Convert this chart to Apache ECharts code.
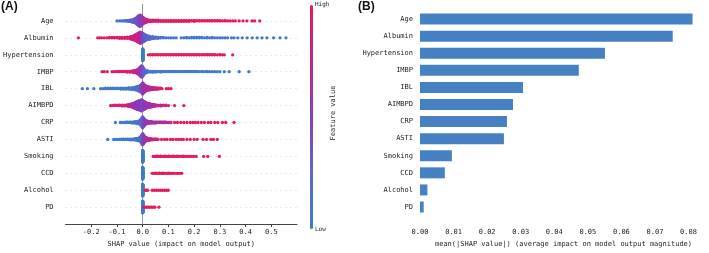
<!DOCTYPE html>
<html lang="en">
<head>
    <meta charset="UTF-8">
    <title>SHAP summary</title>
    <script src="https://cdn.jsdelivr.net/npm/echarts@6/dist/echarts.min.js"></script>
    <style>
        html, body { margin: 0; padding: 0; background: #fff; }
        #main { width: 709px; height: 253px; }
    </style>
</head>
<body>
<div id="main"></div>
<script>
    // features, top to bottom
    const features = ['Age', 'Albumin', 'Hypertension', 'IMBP', 'IBL', 'AIMBPD', 'CRP', 'ASTI', 'Smoking', 'CCD', 'Alcohol', 'PD'];
    // panel B: mean(|SHAP value|)
    const meanAbsShap = [0.0812, 0.0753, 0.0551, 0.0473, 0.0307, 0.0277, 0.0259, 0.0250, 0.0095, 0.0074, 0.0022, 0.0011];

    // panel A: [shap value, number of points at that value, feature value 0(low)..1(high)]
    const shapAge = [
        [-0.100,1,0.10],[-0.090,1,0.15],[-0.082,1,0.10],[-0.075,1,0.20],[-0.068,2,0.15],[-0.062,2,0.20],[-0.056,3,0.25],
        [-0.050,4,0.20],[-0.045,5,0.30],[-0.040,7,0.30],[-0.035,9,0.30],[-0.030,12,0.35],[-0.025,16,0.35],[-0.020,22,0.40],
        [-0.015,28,0.40],[-0.010,30,0.45],[-0.005,26,0.50],[0.000,18,0.55],[0.005,14,0.65],[0.010,10,0.75],[0.015,8,0.80],
        [0.020,6,0.85],[0.030,5,0.90],[0.040,4,0.90],[0.050,4,0.95],[0.060,4,0.95],[0.070,3,0.95],[0.080,3,1],[0.090,3,1],
        [0.100,3,1],[0.110,3,1],[0.120,3,1],[0.130,3,1],[0.140,3,1],[0.150,3,1],[0.160,3,1],[0.170,3,1],[0.180,3,1],
        [0.190,2,1],[0.200,3,1],[0.210,2,1],[0.220,2,1],[0.230,2,1],[0.240,2,1],[0.250,2,1],[0.260,2,1],[0.270,2,1],
        [0.280,2,1],[0.290,2,1],[0.300,2,1],[0.310,1,1],[0.320,2,1],[0.330,1,1],[0.340,1,1],[0.350,1,1],[0.360,1,1],
        [0.375,1,1],[0.390,1,1],[0.405,1,1],[0.425,1,1],[0.435,1,1],[0.455,1,1]
    ];
    const shapAlbumin = [
        [-0.250,1,0.95],[-0.175,1,0.95],[-0.168,1,0.90],[-0.160,1,0.95],[-0.150,1,0.95],[-0.140,1,0.95],[-0.130,2,0.95],
        [-0.120,2,0.95],[-0.110,2,0.95],[-0.100,2,0.95],[-0.090,3,0.95],[-0.080,3,0.95],[-0.070,3,0.90],[-0.060,4,0.90],
        [-0.050,5,0.90],[-0.045,7,0.90],[-0.040,9,0.90],[-0.035,11,0.90],[-0.030,14,0.85],[-0.025,18,0.85],[-0.020,22,0.85],
        [-0.015,26,0.80],[-0.010,30,0.75],[-0.005,28,0.65],[0.000,24,0.50],[0.005,20,0.35],[0.010,16,0.30],[0.015,12,0.25],
        [0.020,10,0.20],[0.025,8,0.20],[0.030,7,0.20],[0.040,6,0.15],[0.050,4,0.15],[0.060,3,0.10],[0.070,2,0.10],
        [0.080,2,0.10],[0.090,1,0.10],[0.100,1,0.10],[0.110,1,0.05],[0.120,1,0.05],[0.130,1,0.05],
        [0.150,1,0.05],[0.160,1,0.05],[0.170,2,0.05],[0.180,1,0.05],[0.190,2,0.05],[0.200,2,0.05],[0.210,2,0.05],
        [0.220,2,0.05],[0.230,2,0.05],[0.240,1,0.05],[0.250,2,0.05],[0.260,1,0.05],[0.270,2,0.05],[0.280,1,0.05],
        [0.290,1,0.05],[0.300,1,0.05],[0.310,1,0.05],[0.320,1,0.05],[0.330,1,0.05],[0.345,1,0.05],[0.355,1,0.05],
        [0.370,1,0.05],[0.387,1,0.05],[0.406,1,0.05],[0.426,1,0.05],[0.445,1,0.05],[0.464,1,0.05],[0.483,1,0.05],
        [0.509,1,0.05],[0.534,1,0.05],[0.557,1,0.05]
    ];
    const shapHypertension = [
        [0.000,60,0],
        [0.022,1,1],[0.030,2,1],[0.040,2,1],[0.050,2,1],[0.060,2,1],[0.070,2,1],[0.080,2,1],[0.090,2,1],[0.100,2,1],
        [0.110,2,1],[0.120,2,1],[0.130,2,1],[0.140,2,1],[0.150,2,1],[0.160,2,1],[0.170,2,1],[0.180,2,1],[0.190,2,1],
        [0.200,2,1],[0.210,2,1],[0.220,2,1],[0.230,2,1],[0.240,2,1],[0.250,2,1],[0.260,2,1],[0.270,2,1],[0.280,2,1],
        [0.290,1,1],[0.300,2,1],[0.310,1,1],[0.317,1,1],[0.350,1,1]
    ];
    const shapIMBP = [
        [-0.158,1,0.95],[-0.150,1,0.95],[-0.138,1,0.95],[-0.119,1,0.95],[-0.110,1,0.95],[-0.100,2,0.95],[-0.090,2,0.95],
        [-0.080,2,0.95],[-0.070,2,0.95],[-0.060,3,0.95],[-0.050,3,0.95],[-0.040,4,0.95],[-0.035,5,0.90],[-0.030,6,0.85],
        [-0.025,8,0.80],[-0.020,11,0.75],[-0.015,16,0.70],[-0.010,24,0.60],[-0.005,30,0.50],[0.000,26,0.40],
        [0.005,14,0.30],[0.010,8,0.20],[0.015,5,0.15],[0.020,4,0.10],[0.030,3,0.10],[0.040,3,0.05],[0.050,3,0.05],
        [0.060,2,0.05],[0.070,3,0.05],[0.080,2,0.05],[0.090,2,0.05],[0.100,2,0.05],[0.110,2,0.05],[0.120,2,0.05],
        [0.130,2,0.05],[0.140,2,0.05],[0.150,2,0.05],[0.160,2,0.05],[0.170,2,0.05],[0.180,2,0.05],[0.190,2,0.05],
        [0.200,2,0.05],[0.210,2,0.05],[0.220,1,0.05],[0.230,2,0.05],[0.240,1,0.05],[0.250,2,0.05],[0.260,1,0.05],
        [0.270,1,0.05],[0.280,1,0.05],[0.290,1,0.05],[0.300,1,0.05],[0.317,1,0.05],[0.336,1,0.05],[0.375,1,0.05],
        [0.413,1,0.05]
    ];
    const shapIBL = [
        [-0.235,1,0.05],[-0.215,1,0.05],[-0.190,1,0.05],[-0.164,1,0.05],[-0.155,1,0.05],[-0.145,2,0.05],[-0.135,2,0.05],
        [-0.125,2,0.05],[-0.115,2,0.05],[-0.105,2,0.05],[-0.095,2,0.05],[-0.085,3,0.05],[-0.075,3,0.05],[-0.065,3,0.05],
        [-0.055,4,0.05],[-0.045,5,0.05],[-0.035,6,0.08],[-0.028,8,0.10],[-0.022,10,0.15],[-0.016,13,0.20],
        [-0.010,17,0.30],[-0.005,22,0.40],[0.000,30,0.50],[0.005,22,0.60],[0.010,16,0.65],[0.015,12,0.70],
        [0.020,10,0.70],[0.025,8,0.70],[0.030,7,0.75],[0.035,6,0.75],[0.040,5,0.75],[0.045,4,0.80],[0.050,4,0.80],
        [0.055,3,0.85],[0.060,3,0.85],[0.065,2,0.85],[0.070,2,0.90],[0.075,1,0.90],[0.092,1,1],[0.100,1,1],[0.110,1,1]
    ];
    const shapAIMBPD = [
        [-0.125,1,0.90],[-0.118,1,0.90],[-0.110,2,0.90],[-0.100,2,0.90],[-0.090,2,0.90],[-0.080,3,0.90],[-0.070,3,0.90],
        [-0.060,4,0.85],[-0.055,5,0.85],[-0.050,6,0.80],[-0.045,8,0.75],[-0.040,10,0.70],[-0.035,13,0.65],
        [-0.030,16,0.60],[-0.025,20,0.55],[-0.020,22,0.50],[-0.015,24,0.50],[-0.010,26,0.50],[-0.005,30,0.45],
        [0.000,26,0.45],[0.005,22,0.50],[0.010,18,0.55],[0.015,14,0.55],[0.020,12,0.55],[0.025,10,0.60],[0.030,9,0.60],
        [0.035,7,0.65],[0.040,6,0.65],[0.045,5,0.70],[0.050,4,0.70],[0.060,3,0.75],[0.070,3,0.80],[0.080,2,0.85],
        [0.090,2,0.90],[0.100,1,0.90],[0.124,1,0.95],[0.160,1,0.95]
    ];
    const shapCRP = [
        [-0.106,1,0.05],[-0.087,1,0.05],[-0.080,1,0.05],[-0.072,1,0.05],[-0.065,2,0.05],[-0.058,2,0.05],[-0.050,2,0.05],
        [-0.043,3,0.05],[-0.036,3,0.05],[-0.030,4,0.05],[-0.024,5,0.05],[-0.018,7,0.08],[-0.012,10,0.10],
        [-0.007,16,0.15],[-0.003,24,0.20],[0.000,30,0.30],[0.004,22,0.45],[0.008,14,0.50],[0.012,10,0.55],
        [0.016,8,0.55],[0.020,6,0.55],[0.025,5,0.60],[0.030,4,0.60],[0.035,4,0.60],[0.040,3,0.60],[0.045,3,0.60],
        [0.050,3,0.65],[0.055,2,0.65],[0.060,2,0.65],[0.065,2,0.65],[0.070,2,0.65],[0.075,2,0.70],[0.080,2,0.70],
        [0.085,2,0.70],[0.090,2,0.70],[0.095,1,0.70],[0.100,1,0.75],[0.105,1,0.75],[0.110,1,0.75],
        [0.124,1,1],[0.135,1,1],[0.148,1,1],[0.160,1,1],[0.172,1,1],[0.185,1,1],[0.195,1,1],[0.205,1,1],[0.215,1,1],
        [0.228,1,1],[0.240,1,1],[0.255,1,1],[0.265,1,1],[0.280,1,1],[0.292,1,1],[0.310,1,1],[0.323,1,1],[0.355,1,1]
    ];
    const shapASTI = [
        [-0.136,1,0.05],[-0.113,1,0.05],[-0.105,1,0.05],[-0.097,1,0.05],[-0.090,1,0.05],[-0.082,2,0.05],[-0.074,2,0.05],
        [-0.066,2,0.05],[-0.058,2,0.05],[-0.050,3,0.05],[-0.043,3,0.05],[-0.036,3,0.05],[-0.030,4,0.05],[-0.024,5,0.05],
        [-0.018,7,0.08],[-0.012,10,0.10],[-0.007,16,0.15],[-0.003,24,0.25],[0.000,30,0.35],[0.004,22,0.50],
        [0.008,14,0.60],[0.012,10,0.65],[0.016,8,0.70],[0.020,6,0.70],[0.025,5,0.75],[0.030,4,0.75],[0.035,3,0.80],
        [0.040,3,0.80],[0.045,2,0.85],[0.050,2,0.85],[0.055,2,0.85],[0.060,1,0.90],
        [0.073,1,1],[0.085,1,1],[0.095,1,1],[0.108,1,1],[0.118,1,1],[0.130,1,1],[0.140,1,1],[0.150,1,1],[0.158,1,1],
        [0.172,1,1],[0.185,1,1],[0.200,1,1],[0.212,1,1],[0.235,1,1],[0.248,1,1],[0.265,1,1],[0.275,1,1],[0.290,1,1]
    ];
    const shapSmoking = [
        [0.000,60,0],
        [0.041,1,1],[0.048,1,1],[0.055,2,1],[0.062,1,1],[0.070,2,1],[0.078,1,1],[0.086,2,1],[0.094,1,1],[0.102,2,1],
        [0.110,1,1],[0.118,2,1],[0.126,1,1],[0.134,2,1],[0.142,1,1],[0.150,1,1],[0.158,2,1],[0.166,1,1],[0.174,1,1],
        [0.182,1,1],[0.190,1,1],[0.198,1,1],[0.208,1,1],[0.237,1,1],[0.253,1,1],[0.298,1,1]
    ];
    const shapCCD = [
        [0.000,60,0],
        [0.037,1,1],[0.044,1,1],[0.051,2,1],[0.058,1,1],[0.065,2,1],[0.072,1,1],[0.079,2,1],[0.086,1,1],[0.093,1,1],
        [0.100,2,1],[0.107,1,1],[0.114,1,1],[0.121,1,1],[0.130,1,1],[0.137,1,1],[0.145,1,1],[0.152,1,1]
    ];
    const shapAlcohol = [
        [0.000,60,0],
        [0.009,1,1],[0.014,1,1],[0.019,1,1],[0.037,1,1],[0.045,1,1],[0.053,1,1],[0.061,1,1],[0.069,1,1],
        [0.077,1,1],[0.085,1,1],[0.092,1,1],[0.099,1,1]
    ];
    const shapPD = [
        [0.000,60,0],
        [0.005,1,1],[0.011,1,1],[0.017,1,1],[0.023,1,1],[0.029,1,1],[0.035,1,1],[0.041,1,1],[0.047,1,1],[0.063,1,1]
    ];
    const shapRows = [shapAge, shapAlbumin, shapHypertension, shapIMBP, shapIBL, shapAIMBPD,
        shapCRP, shapASTI, shapSmoking, shapCCD, shapAlcohol, shapPD];

    const nRows = features.length;
    const txt = '#222';
    const mono = 'DejaVu Sans Mono';

    // beeswarm: stack the points of each value alternately up/down, scaled per row like shap does
    let swarm = [];
    shapRows.forEach((rows, i) => {
        const rowY = nRows - 1 - i;
        let maxLayer = 0;
        rows.forEach(r => { maxLayer = Math.max(maxLayer, Math.ceil((r[1] - 1) / 2)); });
        const scale = 0.9 * 0.4 / (maxLayer + 1);
        rows.forEach(r => {
            for (let L = 0; L < r[1]; L++) {
                const off = Math.ceil(L / 2) * ((L % 2) * 2 - 1);
                swarm.push([r[0], rowY + off * scale, r[2]]);
            }
        });
    });

    const rowLines = features.map((f, i) => ({yAxis: nRows - 1 - i}));
    const catB = [''].concat(features.slice().reverse(), ['']);
    const valB = ['-'].concat(meanAbsShap.slice().reverse(), ['-']);

    let myChart = echarts.init(document.getElementById('main'));
    let option = {
        animation: false,
        grid: [
            {left: 63, width: 234, top: 4, bottom: 24},
            {left: 420, right: 2, top: 2, bottom: 26}
        ],
        xAxis: [
            {
                gridIndex: 0, type: 'value', min: -0.3, max: 0.6, interval: 0.1,
                splitLine: {show: false},
                axisLine: {onZero: false, lineStyle: {color: '#444', width: 1}},
                axisTick: {length: 3, lineStyle: {color: '#444'}},
                axisLabel: {
                    showMinLabel: false, showMaxLabel: false, margin: 5,
                    fontFamily: mono, fontSize: 7, color: txt,
                    formatter: v => v.toFixed(1)
                },
                name: 'SHAP value (impact on model output)',
                nameLocation: 'middle', nameGap: 15,
                nameTextStyle: {fontFamily: mono, fontSize: 7, color: txt}
            },
            {
                gridIndex: 1, type: 'value', min: 0, max: 0.0855, interval: 0.01,
                splitLine: {show: false},
                axisLine: {onZero: false, lineStyle: {color: '#444', width: 1}},
                axisTick: {length: 3, lineStyle: {color: '#444'}},
                axisLabel: {
                    showMaxLabel: false, margin: 5,
                    fontFamily: mono, fontSize: 7, color: txt,
                    formatter: v => v.toFixed(2)
                },
                name: 'mean(|SHAP value|) (average impact on model output magnitude)',
                nameLocation: 'middle', nameGap: 15,
                nameTextStyle: {fontFamily: mono, fontSize: 7, color: txt}
            }
        ],
        yAxis: [
            {
                gridIndex: 0, type: 'value', min: -1, max: nRows, interval: 1,
                axisLine: {show: false}, axisTick: {show: false}, splitLine: {show: false},
                axisLabel: {
                    margin: 12, fontFamily: mono, fontSize: 7, color: txt,
                    formatter: v => (v >= 0 && v < nRows) ? features[nRows - 1 - v] : ''
                }
            },
            {
                gridIndex: 1, type: 'category', data: catB, boundaryGap: false,
                axisLine: {show: false}, axisTick: {show: false}, splitLine: {show: false},
                axisLabel: {margin: 7, fontFamily: mono, fontSize: 7, color: txt, interval: 0}
            }
        ],
        visualMap: {
            type: 'continuous', seriesIndex: 1, dimension: 2, min: 0, max: 1,
            calculable: false, orient: 'vertical',
            left: 310, top: 5, padding: 0, itemWidth: 3, itemHeight: 224,
            text: null, showLabel: false,
            inRange: {color: ['#3d7dcc', '#5a67cb', '#8a3dbb', '#bb2896', '#e8195c']}
        },
        series: [
            {
                // reference lines: zero line and dotted row guides, kept behind the dots
                type: 'line', xAxisIndex: 0, yAxisIndex: 0, data: [], z: 1, silent: true,
                markLine: {
                    silent: true, symbol: 'none', animation: false, z: 1,
                    label: {show: false},
                    data: [
                        {xAxis: 0, lineStyle: {color: '#999', width: 1, type: 'solid'}}
                    ].concat(rowLines.map(d => Object.assign({lineStyle: {color: '#ccc', width: 0.8, type: [1, 4]}}, d)))
                }
            },
            {
                type: 'scatter', xAxisIndex: 0, yAxisIndex: 0, z: 6,
                symbol: 'circle', symbolSize: 3.3, data: swarm,
                itemStyle: {opacity: 1}
            },
            {
                type: 'bar', xAxisIndex: 1, yAxisIndex: 1, data: valB,
                barWidth: 11, itemStyle: {color: '#4682c3'}
            }
        ],
        graphic: [
            {type: 'text', left: 1, top: 1, style: {text: '(A)', font: 'bold 12px "Liberation Sans"', fill: '#111'}},
            {type: 'text', left: 358, top: 1, style: {text: '(B)', font: 'bold 12px "Liberation Sans"', fill: '#111'}},
            {type: 'text', left: 315, top: 1, style: {text: 'High', font: '6px "DejaVu Sans Mono"', fill: txt}},
            {type: 'text', left: 315, top: 226, style: {text: 'Low', font: '6px "DejaVu Sans Mono"', fill: txt}},
            {type: 'text', x: 333, y: 113, rotation: Math.PI / 2,
                style: {text: 'Feature value', font: '7px "DejaVu Sans Mono"', fill: txt, align: 'center', verticalAlign: 'middle'}}
        ]
    };
    myChart.setOption(option);
</script>
</body>
</html>
